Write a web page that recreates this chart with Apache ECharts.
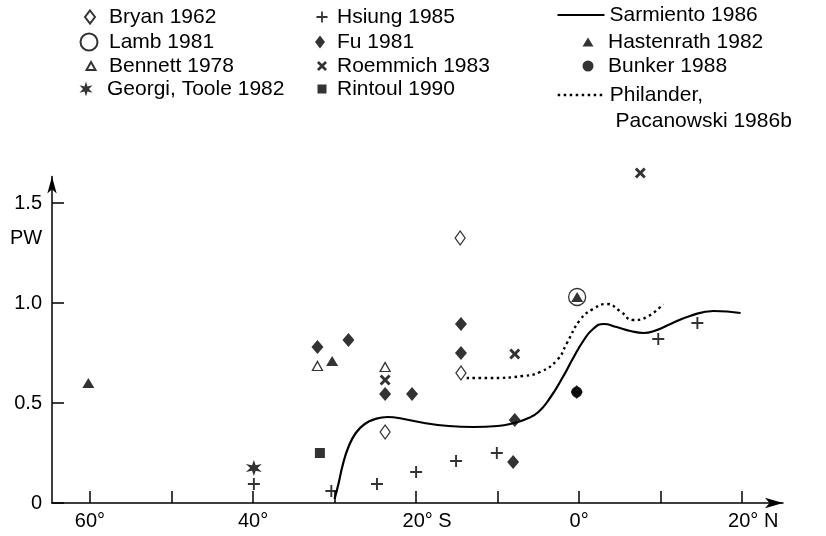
<!DOCTYPE html>
<html><head><meta charset="utf-8">
<script src="https://cdn.jsdelivr.net/npm/echarts@6/dist/echarts.min.js"></script>
<style>html,body{margin:0;padding:0;background:#fff}#c{width:826px;height:536px}</style>
</head><body><div id="c"></div>
<script>
// ---- axis ticks / labels ----
const xTickValues = [-60, -50, -40, -30, -20, -10, 0, 10, 20];
const xLabelValues = [-60, -40, -20, 0, 20];
const xLabelTexts = ['60°', '40°', '20° S', '0°', '20° N'];
const yTickValues = [0, 0.5, 1.0, 1.5];
const yLabelTexts = ['0', '0.5', '1.0', '1.5'];

// ---- series names ----
const nameBryan = 'Bryan 1962';
const nameLamb = 'Lamb 1981';
const nameBennett = 'Bennett 1978';
const nameGeorgi = 'Georgi, Toole 1982';
const nameHsiung = 'Hsiung 1985';
const nameFu = 'Fu 1981';
const nameRoemmich = 'Roemmich 1983';
const nameRintoul = 'Rintoul 1990';
const nameSarmiento = 'Sarmiento 1986';
const nameHastenrath = 'Hastenrath 1982';
const nameBunker = 'Bunker 1988';
const namePhilander = 'Philander, Pacanowski 1986b';

// ---- data: [latitude (deg, south negative), heat transport PW] ----
const bryan = [[-23.8, 0.355], [-14.5, 0.65], [-14.6, 1.325]];
const lamb = [[-0.25, 1.03]];
const bennett = [[-32.1, 0.685], [-23.8, 0.68]];
const georgi = [[-39.9, 0.175]];
const hsiung = [[-39.9, 0.095], [-30.4, 0.06], [-24.8, 0.095], [-20.0, 0.155], [-15.1, 0.21], [-10.1, 0.25], [9.7, 0.82], [14.5, 0.90]];
const fu = [[-32.1, 0.78], [-28.3, 0.815], [-23.8, 0.545], [-20.5, 0.545], [-14.5, 0.895], [-14.5, 0.75], [-7.9, 0.415], [-8.1, 0.205], [-0.3, 0.555]];
const roemmich = [[-23.8, 0.615], [-7.9, 0.745], [7.5, 1.65]];
const rintoul = [[-31.8, 0.25]];
const hastenrath = [[-60.2, 0.60], [-30.3, 0.71], [-0.25, 1.03]];
const bunker = [[-0.3, 0.555]];
const sarmiento = [[-30.0, 0.02], [-29.5, 0.10], [-29.0, 0.19], [-28.3, 0.28], [-27.4, 0.35], [-26.3, 0.395], [-25.0, 0.42], [-23.5, 0.43], [-21.5, 0.42], [-19.0, 0.40], [-16.0, 0.385], [-13.0, 0.38], [-10.0, 0.385], [-8.0, 0.40], [-6.5, 0.42], [-5.0, 0.455], [-3.5, 0.53], [-2.0, 0.63], [-0.8, 0.72], [0.5, 0.81], [1.7, 0.87], [3.0, 0.895], [4.6, 0.88], [6.3, 0.86], [7.9, 0.85], [9.2, 0.86], [11.2, 0.895], [13.6, 0.935], [16.5, 0.96], [19.8, 0.95]];
const philander = [[-13.8, 0.625], [-10.9, 0.625], [-6.9, 0.635], [-4.8, 0.655], [-2.7, 0.715], [-1.5, 0.80], [0.1, 0.915], [1.7, 0.97], [3.4, 0.995], [5.0, 0.96], [6.6, 0.915], [8.3, 0.93], [10.3, 0.995]];

// ---- styling ----
const FONT = '"Liberation Sans", Arial, Helvetica, sans-serif';
const PLUS = 'path://M4.2,0H5.8V4.2H10V5.8H5.8V10H4.2V5.8H0V4.2H4.2Z';
const XMARK = 'path://M0,1.9L1.9,0L5,3.1L8.1,0L10,1.9L6.9,5L10,8.1L8.1,10L5,6.9L1.9,10L0,8.1L3.1,5Z';
const STAR = 'path://M10,0L12,6.54L18.66,5L14,10L18.66,15L12,13.46L10,20L8,13.46L1.34,15L6,10L1.34,5L8,6.54Z';
const DOT = [2.5, 3.5];

function scatter(name, data, symbol, size, filled) {
  return {
    type: 'scatter', name, data, symbol, symbolSize: size, clip: false, silent: true,
    itemStyle: filled ? { color: '#000' } : { color: '#fff', borderColor: '#000', borderWidth: 1.3 }
  };
}

const legendLayout = [
  { name: nameBryan, cx: 89, cy: 17, w: 10, h: 13, tx: 108 },
  { name: nameLamb, cx: 88, cy: 42, w: 17, h: 17, tx: 108 },
  { name: nameBennett, cx: 90, cy: 66, w: 9, h: 8, tx: 108 },
  { name: nameGeorgi, cx: 87, cy: 89, w: 15, h: 15, tx: 108 },
  { name: nameHsiung, cx: 322, cy: 17, w: 11, h: 11, tx: 337 },
  { name: nameFu, cx: 320, cy: 42, w: 10, h: 13, tx: 337 },
  { name: nameRoemmich, cx: 322, cy: 66, w: 10, h: 10, tx: 337 },
  { name: nameRintoul, cx: 322, cy: 89, w: 9, h: 9, tx: 337 },
  { name: nameSarmiento, cx: 580, cy: 15, w: 47, h: 6, tx: 608, line: true },
  { name: nameHastenrath, cx: 588, cy: 42, w: 11, h: 9, tx: 608 },
  { name: nameBunker, cx: 588, cy: 66, w: 11, h: 11, tx: 608 },
  { name: namePhilander, cx: 580, cy: 95, w: 47, h: 6, tx: 608, line: true, multi: true }
];

const legends = legendLayout.map(L => {
  const left = L.cx - L.w / 2;
  const padL = Math.max(0, L.tx - (left + L.w + 5));
  const lg = {
    data: [L.name], orient: 'vertical', left, top: L.multi ? L.cy - 39 : L.cy - 12,
    padding: 0, itemWidth: L.w, itemHeight: L.h, selectedMode: false,
    textStyle: { fontFamily: FONT, fontSize: 21, color: '#000', lineHeight: L.multi ? 26 : 24,
      padding: [0, 0, 0, padL] }
  };
  if (L.line) {
    lg.itemStyle = { color: 'rgba(0,0,0,0)', borderColor: 'rgba(0,0,0,0)', borderWidth: 0 };
    lg.lineStyle = L.multi ? { type: DOT, width: 2.4, color: '#000' } : { type: 'solid', width: 2, color: '#000' };
  }
  if (L.multi) {
    lg.formatter = n => '\n' + n.replace(', ', ',\n ');
  }
  return lg;
});

const chart = echarts.init(document.getElementById('c'));
chart.setOption({
  animation: false,
  backgroundColor: '#fff',
  grid: { left: 52, right: 43, top: 176.5, bottom: 33, containLabel: false, outerBoundsMode: 'none' },
  legend: legends,
  xAxis: {
    type: 'value', min: -64.66, max: 25.0,
    axisLine: { show: true, onZero: false, lineStyle: { color: '#000', width: 1.5 }, symbol: ['none', 'arrow'], symbolSize: [8, 18] },
    axisTick: { show: true, inside: true, length: 12, lineStyle: { color: '#000', width: 1.5 }, customValues: xTickValues },
    axisLabel: {
      show: true, margin: 8, color: '#000', fontFamily: FONT, fontSize: 20, customValues: xLabelValues,
      formatter: v => {
        const i = xLabelValues.findIndex(t => Math.abs(t - v) < 1e-6);
        const s = i >= 0 ? xLabelTexts[i] : '';
        return s.length > 3 ? '{w|' + s + '}' : s;
      },
      rich: { w: { fontFamily: FONT, fontSize: 20, color: '#000', padding: [0, 0, 0, 22] } }
    },
    splitLine: { show: false }
  },
  yAxis: {
    type: 'value', min: 0, max: 1.6325,
    axisLine: { show: true, onZero: false, lineStyle: { color: '#000', width: 1.5 }, symbol: ['none', 'arrow'], symbolSize: [7, 17] },
    axisTick: { show: true, inside: true, length: 12, lineStyle: { color: '#000', width: 1.5 }, customValues: yTickValues },
    axisLabel: {
      show: true, margin: 10, color: '#000', fontFamily: FONT, fontSize: 20, customValues: yTickValues,
      formatter: v => {
        const i = yTickValues.findIndex(t => Math.abs(t - v) < 1e-6);
        return i >= 0 ? yLabelTexts[i] : '';
      }
    },
    splitLine: { show: false }
  },
  graphic: [{ type: 'text', left: 10, top: 228, style: { text: 'PW', font: '20px "Liberation Sans", Arial, sans-serif', fill: '#000' } }],
  series: [
    { type: 'line', name: nameSarmiento, data: sarmiento, symbol: 'none', smooth: 0.5, silent: true,
      lineStyle: { color: '#000', width: 2.2 }, itemStyle: { color: '#000' } },
    { type: 'line', name: namePhilander, data: philander, symbol: 'none', smooth: 0.5, silent: true,
      lineStyle: { color: '#000', width: 2.4, type: DOT }, itemStyle: { color: '#000' } },
    scatter(nameLamb, lamb, 'circle', 17, false),
    scatter(nameBryan, bryan, 'diamond', [10, 14], false),
    scatter(nameBennett, bennett, 'triangle', [10, 9], false),
    scatter(nameGeorgi, georgi, STAR, 16, true),
    scatter(nameHsiung, hsiung, PLUS, 12, true),
    scatter(nameBunker, bunker, 'circle', 11, true),
    scatter(nameFu, fu, 'diamond', [12, 14], true),
    scatter(nameRoemmich, roemmich, XMARK, 11, true),
    scatter(nameRintoul, rintoul, 'rect', 10, true),
    scatter(nameHastenrath, hastenrath, 'triangle', [12, 10], true)
  ]
});
</script></body></html>
